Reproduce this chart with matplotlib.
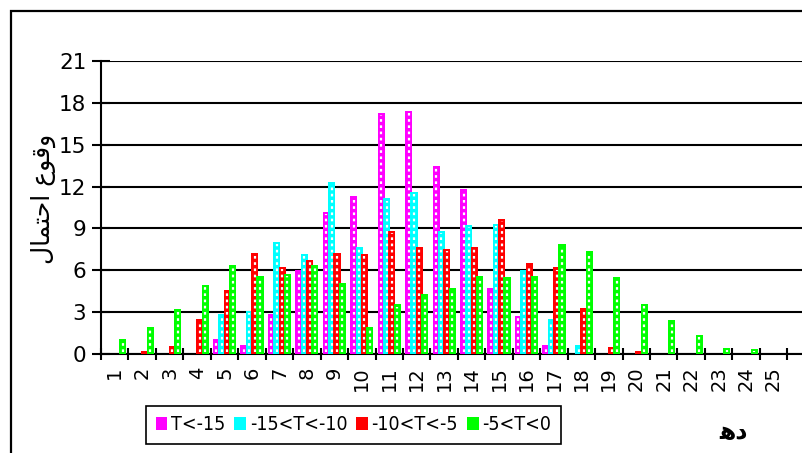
#Import helpful toolboxes etc
import matplotlib
matplotlib.use('Agg')
import matplotlib.pyplot as plt
import matplotlib.patches as mpatches
from matplotlib.font_manager import FontProperties
import numpy as np

#-------------------------------------
#data
#-------------------------------------
days = [str(i) for i in range(1, 26)]
series_names = ['T<-15', '-15<T<-10', '-10<T<-5', '-5<T<0']
t_below_15 = [0, 0, 0, 0, 1.1, 0.65, 2.9, 6.0, 10.15, 11.3, 17.25, 17.4, 13.5,
              11.8, 4.7, 2.75, 0.65, 0, 0, 0, 0, 0, 0, 0, 0]
t_15_10 = [0, 0, 0, 0, 2.9, 3.1, 8.05, 7.2, 12.35, 7.7, 11.15, 11.6, 8.85,
           9.25, 9.3, 6.05, 2.5, 0.68, 0, 0, 0, 0, 0, 0, 0]
t_10_5 = [0, 0.25, 0.55, 2.5, 4.6, 7.25, 6.25, 6.75, 7.25, 7.15, 8.85, 7.7, 7.55,
          7.7, 9.65, 6.5, 6.2, 3.3, 0.5, 0.22, 0, 0, 0, 0, 0]
t_5_0 = [1.05, 1.95, 3.25, 4.95, 6.4, 5.6, 5.75, 6.4, 5.1, 1.95, 3.55, 4.3, 4.7,
         5.6, 5.5, 5.6, 7.85, 7.35, 5.55, 3.58, 2.43, 1.35, 0.45, 0.33, 0]
y_ticks = [0, 3, 6, 9, 12, 15, 18, 21]

colors = ['#FF00FF', '#00FFFF', '#FF0000', '#00FF00']

#axis labels (arabic, given as presentation forms in visual order)
ylabel_txt = '\uFEDD\uFE8E\uFEE4\uFE98\uFEA3\uFE8D \uFEC9\uFEEE\uFED7\uFEED'
xlabel_txt = '\uFEEB\uFEA9'

#-------------------------------------
#Time to plot!
#-------------------------------------
fig = plt.figure(figsize=(8.02, 4.53), dpi=100)
W, H = 802.0, 453.0
ax = fig.add_axes([101 / W, 1 - 354 / H, (W - 101) / W, (354 - 61) / H])

x = np.arange(1, len(days) + 1)
step = 0.195
width = 0.26
all_series = [t_below_15, t_15_10, t_10_5, t_5_0]
for i, (vals, col, name) in enumerate(zip(all_series, colors, series_names)):
    pos = x + (i - 1.5) * step
    ax.bar(pos, vals, width=width, color=col, linewidth=0, zorder=3, label=name)
    #white dotted pattern in the middle of each bar
    v = np.array(vals)
    ax.vlines(pos[v > 0.3], 0.15, v[v > 0.3] - 0.15, colors='white', linewidth=1.6,
              linestyles=(0, (1.2, 1.6)), zorder=4)

#gridlines and limits
ax.set_ylim(0, 21)
ax.set_xlim(0.5, 0.5 + (W - 101) / 27.45)
ax.set_yticks(y_ticks)
ax.yaxis.grid(True, color='black', linewidth=1.5, zorder=0)
ax.set_axisbelow(True)

#x ticks - labels at centres, tick marks at the category borders
ax.set_xticks(x)
ax.set_xticklabels(days, rotation=90, fontsize=14)
ax.set_xticks(np.arange(0.5, 26, 1), minor=True)
ax.tick_params(axis='x', which='major', length=0, pad=9)
ax.tick_params(axis='x', which='minor', direction='inout', length=9, width=1.5)
ax.tick_params(axis='y', direction='inout', length=13, width=1.5, labelsize=15.5, pad=4)

for s in ['top', 'right']:
    ax.spines[s].set_visible(False)
ax.spines['left'].set_linewidth(1.5)
ax.spines['bottom'].set_linewidth(1.5)

#-----Finishing touches for the overall figure-----
#outer chart border
fig.patches.append(mpatches.Rectangle((11 / W, -0.2), 1.0, 1 - 11 / H + 0.2,
                                      transform=fig.transFigure, fill=False,
                                      edgecolor='black', linewidth=1.6))

#y label
fig.text(43 / W, 1 - 199 / H, ylabel_txt, rotation=90, ha='center', va='center',
         fontsize=18, family='DejaVu Sans')
#x label
fig.text(733 / W, 1 - 432 / H, xlabel_txt, ha='center', va='center',
         fontsize=17, fontweight='bold', family='DejaVu Sans')

#legend at the bottom - narrower font like the original
leg_font = FontProperties(family='DejaVu Sans', stretch='condensed', size=14)
leg = fig.legend(loc='center', bbox_to_anchor=(353.5 / W, 1 - 425 / H), ncol=4,
                 prop=leg_font, frameon=True, fancybox=False, framealpha=1,
                 edgecolor='black', handlelength=0.6, handleheight=0.6,
                 handletextpad=0.2, columnspacing=0.45, borderpad=0.5)
leg.get_frame().set_linewidth(1.2)

#Save the figure
fig.savefig('out.png', dpi=100)
